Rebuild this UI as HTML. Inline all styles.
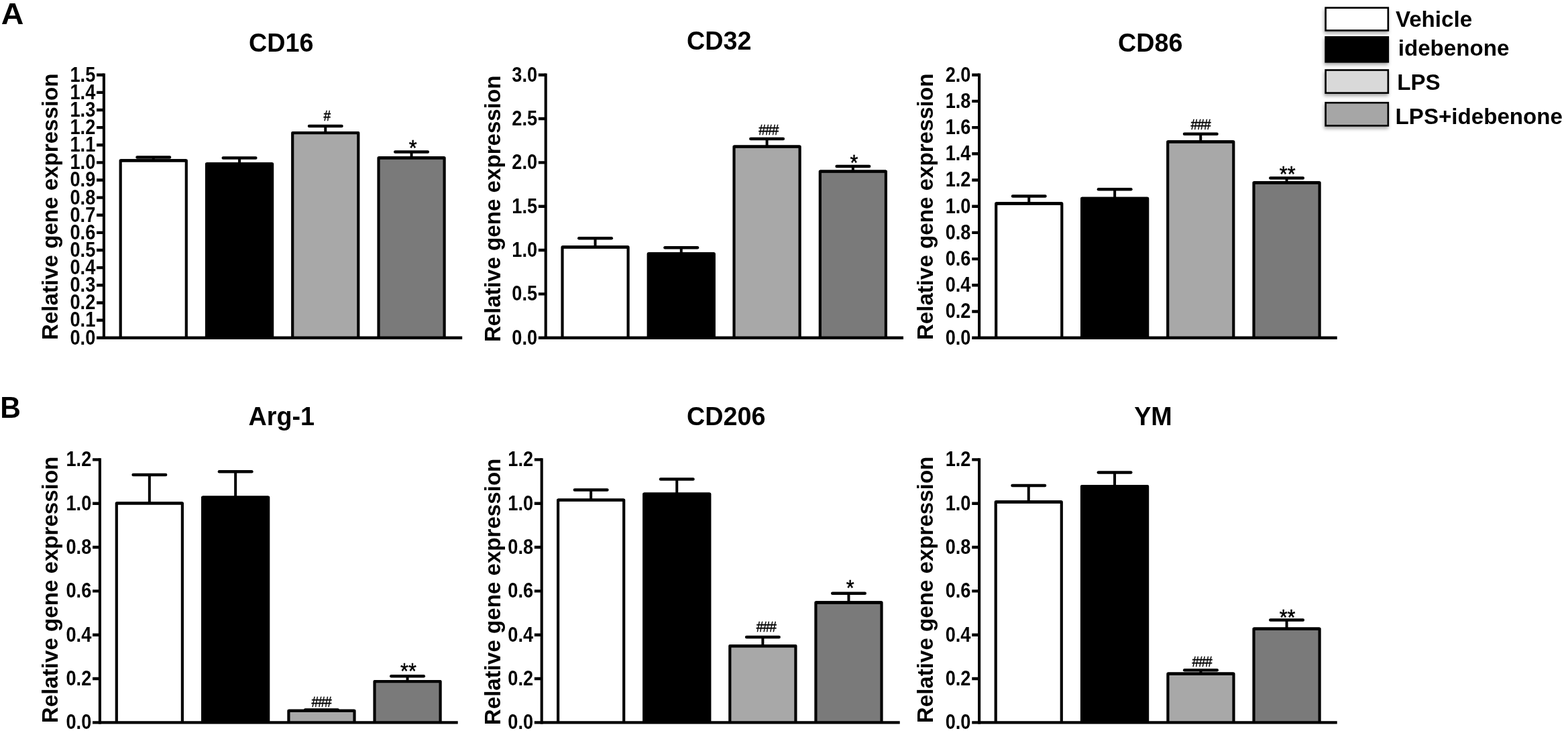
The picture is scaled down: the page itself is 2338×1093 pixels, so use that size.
<!DOCTYPE html>
<html lang="en"><head><meta charset="utf-8"><title>Relative gene expression of M1 and M2 markers</title>
<style>html,body{margin:0;padding:0;background:#fff}body{width:2338px;height:1093px;overflow:hidden}svg{display:block}text{font-family:'Liberation Sans', Arial, Helvetica, sans-serif;font-weight:bold;fill:#000;stroke:none}text.h{font-weight:normal;stroke:#000;stroke-width:.5px;letter-spacing:-1px}text.s{font-weight:normal;stroke:#000;stroke-width:.45px}</style></head><body>
<svg width="2338" height="1093" viewBox="0 0 2338 1093" fill="none" stroke="#000">
<defs><filter id="sh" x="-20%" y="-30%" width="140%" height="170%"><feDropShadow dx="-1" dy="3.3" stdDeviation="2.4" flood-color="#000" flood-opacity="0.34"/></filter></defs>
<rect width="2338" height="1093" fill="#fff" stroke="none"/>
<g>
<path d="M228.75 239.3V234.5" stroke-width="4"/>
<path d="M204.5 234.5H253" stroke-width="4.5" stroke-linecap="round"/>
<path d="M179.7 503.7V239.3H277.8V503.7" fill="#ffffff" stroke-width="4.2" stroke-linejoin="round"/>
<path d="M179.7 239.4H277.8" stroke-width="4.4"/>
<path d="M357.05 244.3V235.5" stroke-width="4"/>
<path d="M332.8 235.5H381.3" stroke-width="4.5" stroke-linecap="round"/>
<path d="M308 503.7V244.3H406.1V503.7" fill="#000000" stroke-width="4.2" stroke-linejoin="round"/>
<path d="M308 244.4H406.1" stroke-width="4.4"/>
<path d="M485.25 198V188.1" stroke-width="4"/>
<path d="M461 188.1H509.5" stroke-width="4.5" stroke-linecap="round"/>
<path d="M436.2 503.7V198H534.3V503.7" fill="#a8a8a8" stroke-width="4.2" stroke-linejoin="round"/>
<path d="M436.2 198.1H534.3" stroke-width="4.4"/>
<path d="M613.55 235.3V226.6" stroke-width="4"/>
<path d="M589.3 226.6H637.8" stroke-width="4.5" stroke-linecap="round"/>
<path d="M564.5 503.7V235.3H662.6V503.7" fill="#7a7a7a" stroke-width="4.2" stroke-linejoin="round"/>
<path d="M564.5 235.4H662.6" stroke-width="4.4"/>
<path d="M154.9 109.5V505.9" stroke-width="4.1"/>
<path d="M152.85 503.7H689.2M154.9 503.7H144.05M154.9 477.57H144.05M154.9 451.43H144.05M154.9 425.3H144.05M154.9 399.17H144.05M154.9 373.03H144.05M154.9 346.9H144.05M154.9 320.77H144.05M154.9 294.63H144.05M154.9 268.5H144.05M154.9 242.37H144.05M154.9 216.23H144.05M154.9 190.1H144.05M154.9 163.97H144.05M154.9 137.83H144.05M154.9 111.7H144.05" stroke-width="4.4"/>
<text transform="translate(142.3 513.6) scale(0.85 1)" font-size="32" text-anchor="end">0.0</text>
<text transform="translate(142.3 487.47) scale(0.85 1)" font-size="32" text-anchor="end">0.1</text>
<text transform="translate(142.3 461.33) scale(0.85 1)" font-size="32" text-anchor="end">0.2</text>
<text transform="translate(142.3 435.2) scale(0.85 1)" font-size="32" text-anchor="end">0.3</text>
<text transform="translate(142.3 409.07) scale(0.85 1)" font-size="32" text-anchor="end">0.4</text>
<text transform="translate(142.3 382.93) scale(0.85 1)" font-size="32" text-anchor="end">0.5</text>
<text transform="translate(142.3 356.8) scale(0.85 1)" font-size="32" text-anchor="end">0.6</text>
<text transform="translate(142.3 330.67) scale(0.85 1)" font-size="32" text-anchor="end">0.7</text>
<text transform="translate(142.3 304.53) scale(0.85 1)" font-size="32" text-anchor="end">0.8</text>
<text transform="translate(142.3 278.4) scale(0.85 1)" font-size="32" text-anchor="end">0.9</text>
<text transform="translate(142.3 252.27) scale(0.85 1)" font-size="32" text-anchor="end">1.0</text>
<text transform="translate(142.3 226.13) scale(0.85 1)" font-size="32" text-anchor="end">1.1</text>
<text transform="translate(142.3 200) scale(0.85 1)" font-size="32" text-anchor="end">1.2</text>
<text transform="translate(142.3 173.87) scale(0.85 1)" font-size="32" text-anchor="end">1.3</text>
<text transform="translate(142.3 147.73) scale(0.85 1)" font-size="32" text-anchor="end">1.4</text>
<text transform="translate(142.3 121.6) scale(0.85 1)" font-size="32" text-anchor="end">1.5</text>
<text transform="translate(85.6 507) rotate(-90) scale(0.98 1)" font-size="33.8">Relative gene expression</text>
<text transform="translate(419.3 77) scale(0.96 1)" font-size="39.3" text-anchor="middle">CD16</text>
<text class="h" transform="translate(487.4 180.1) scale(0.83 1)" font-size="22.99" text-anchor="middle">#</text>
<text class="s" transform="translate(615.6 232.4) scale(0.93 1)" font-size="33" text-anchor="middle">*</text>
</g>
<g>
<path d="M887.55 368.4V355.2" stroke-width="4"/>
<path d="M863.3 355.2H911.8" stroke-width="4.5" stroke-linecap="round"/>
<path d="M838.5 503.7V368.4H936.6V503.7" fill="#ffffff" stroke-width="4.2" stroke-linejoin="round"/>
<path d="M838.5 368.5H936.6" stroke-width="4.4"/>
<path d="M1015.75 378.4V369.3" stroke-width="4"/>
<path d="M991.5 369.3H1040" stroke-width="4.5" stroke-linecap="round"/>
<path d="M966.7 503.7V378.4H1064.8V503.7" fill="#000000" stroke-width="4.2" stroke-linejoin="round"/>
<path d="M966.7 378.5H1064.8" stroke-width="4.4"/>
<path d="M1143.55 218.5V207" stroke-width="4"/>
<path d="M1119.3 207H1167.8" stroke-width="4.5" stroke-linecap="round"/>
<path d="M1094.5 503.7V218.5H1192.6V503.7" fill="#a8a8a8" stroke-width="4.2" stroke-linejoin="round"/>
<path d="M1094.5 218.6H1192.6" stroke-width="4.4"/>
<path d="M1271.85 255.5V248.1" stroke-width="4"/>
<path d="M1247.6 248.1H1296.1" stroke-width="4.5" stroke-linecap="round"/>
<path d="M1222.8 503.7V255.5H1320.9V503.7" fill="#7a7a7a" stroke-width="4.2" stroke-linejoin="round"/>
<path d="M1222.8 255.6H1320.9" stroke-width="4.4"/>
<path d="M813.7 109.5V505.9" stroke-width="4.1"/>
<path d="M811.65 503.7H1347M813.7 503.7H802.85M813.7 438.37H802.85M813.7 373.03H802.85M813.7 307.7H802.85M813.7 242.37H802.85M813.7 177.03H802.85M813.7 111.7H802.85" stroke-width="4.4"/>
<text transform="translate(801.1 513.6) scale(0.85 1)" font-size="32" text-anchor="end">0.0</text>
<text transform="translate(801.1 448.27) scale(0.85 1)" font-size="32" text-anchor="end">0.5</text>
<text transform="translate(801.1 382.93) scale(0.85 1)" font-size="32" text-anchor="end">1.0</text>
<text transform="translate(801.1 317.6) scale(0.85 1)" font-size="32" text-anchor="end">1.5</text>
<text transform="translate(801.1 252.27) scale(0.85 1)" font-size="32" text-anchor="end">2.0</text>
<text transform="translate(801.1 186.93) scale(0.85 1)" font-size="32" text-anchor="end">2.5</text>
<text transform="translate(801.1 121.6) scale(0.85 1)" font-size="32" text-anchor="end">3.0</text>
<text transform="translate(745.8 510.1) rotate(-90) scale(0.98 1)" font-size="33.8">Relative gene expression</text>
<text transform="translate(1072.2 73.8) scale(0.96 1)" font-size="39.3" text-anchor="middle">CD32</text>
<text class="h" transform="translate(1145.9 200.7) scale(0.87 1)" font-size="22" text-anchor="middle">###</text>
<text class="s" transform="translate(1273.5 253.7) scale(0.93 1)" font-size="33" text-anchor="middle">*</text>
</g>
<g>
<path d="M1534.25 303.4V292.6" stroke-width="4"/>
<path d="M1510 292.6H1558.5" stroke-width="4.5" stroke-linecap="round"/>
<path d="M1485.2 503.7V303.4H1583.3V503.7" fill="#ffffff" stroke-width="4.2" stroke-linejoin="round"/>
<path d="M1485.2 303.5H1583.3" stroke-width="4.4"/>
<path d="M1662.15 295.9V282.2" stroke-width="4"/>
<path d="M1637.9 282.2H1686.4" stroke-width="4.5" stroke-linecap="round"/>
<path d="M1613.1 503.7V295.9H1711.2V503.7" fill="#000000" stroke-width="4.2" stroke-linejoin="round"/>
<path d="M1613.1 296H1711.2" stroke-width="4.4"/>
<path d="M1790.25 211.3V199.8" stroke-width="4"/>
<path d="M1766 199.8H1814.5" stroke-width="4.5" stroke-linecap="round"/>
<path d="M1741.2 503.7V211.3H1839.3V503.7" fill="#a8a8a8" stroke-width="4.2" stroke-linejoin="round"/>
<path d="M1741.2 211.4H1839.3" stroke-width="4.4"/>
<path d="M1918.55 272.3V265.6" stroke-width="4"/>
<path d="M1894.3 265.6H1942.8" stroke-width="4.5" stroke-linecap="round"/>
<path d="M1869.5 503.7V272.3H1967.6V503.7" fill="#7a7a7a" stroke-width="4.2" stroke-linejoin="round"/>
<path d="M1869.5 272.4H1967.6" stroke-width="4.4"/>
<path d="M1460.1 109.5V505.9" stroke-width="4.1"/>
<path d="M1458.05 503.7H1993.7M1460.1 503.7H1449.25M1460.1 464.5H1449.25M1460.1 425.3H1449.25M1460.1 386.1H1449.25M1460.1 346.9H1449.25M1460.1 307.7H1449.25M1460.1 268.5H1449.25M1460.1 229.3H1449.25M1460.1 190.1H1449.25M1460.1 150.9H1449.25M1460.1 111.7H1449.25" stroke-width="4.4"/>
<text transform="translate(1447.5 513.6) scale(0.85 1)" font-size="32" text-anchor="end">0.0</text>
<text transform="translate(1447.5 474.4) scale(0.85 1)" font-size="32" text-anchor="end">0.2</text>
<text transform="translate(1447.5 435.2) scale(0.85 1)" font-size="32" text-anchor="end">0.4</text>
<text transform="translate(1447.5 396) scale(0.85 1)" font-size="32" text-anchor="end">0.6</text>
<text transform="translate(1447.5 356.8) scale(0.85 1)" font-size="32" text-anchor="end">0.8</text>
<text transform="translate(1447.5 317.6) scale(0.85 1)" font-size="32" text-anchor="end">1.0</text>
<text transform="translate(1447.5 278.4) scale(0.85 1)" font-size="32" text-anchor="end">1.2</text>
<text transform="translate(1447.5 239.2) scale(0.85 1)" font-size="32" text-anchor="end">1.4</text>
<text transform="translate(1447.5 200) scale(0.85 1)" font-size="32" text-anchor="end">1.6</text>
<text transform="translate(1447.5 160.8) scale(0.85 1)" font-size="32" text-anchor="end">1.8</text>
<text transform="translate(1447.5 121.6) scale(0.85 1)" font-size="32" text-anchor="end">2.0</text>
<text transform="translate(1390.8 507.1) rotate(-90) scale(0.98 1)" font-size="33.8">Relative gene expression</text>
<text transform="translate(1715.3 76.8) scale(0.96 1)" font-size="39.3" text-anchor="middle">CD86</text>
<text class="h" transform="translate(1790.2 193) scale(0.87 1)" font-size="22" text-anchor="middle">###</text>
<text class="s" transform="translate(1919.7 270.9) scale(0.93 1)" font-size="33" text-anchor="middle">**</text>
</g>
<g>
<path d="M222.85 750.3V707.9" stroke-width="4"/>
<path d="M198.6 707.9H247.1" stroke-width="4.5" stroke-linecap="round"/>
<path d="M173.8 1077.4V750.3H271.9V1077.4" fill="#ffffff" stroke-width="4.2" stroke-linejoin="round"/>
<path d="M173.8 750.4H271.9" stroke-width="4.4"/>
<path d="M351.15 741.5V703.2" stroke-width="4"/>
<path d="M326.9 703.2H375.4" stroke-width="4.5" stroke-linecap="round"/>
<path d="M302.1 1077.4V741.5H400.2V1077.4" fill="#000000" stroke-width="4.2" stroke-linejoin="round"/>
<path d="M302.1 741.6H400.2" stroke-width="4.4"/>
<path d="M479.45 1059.8V1058.5" stroke-width="4"/>
<path d="M455.2 1058.5H503.7" stroke-width="4.5" stroke-linecap="round"/>
<path d="M430.4 1077.4V1059.8H528.5V1077.4" fill="#a8a8a8" stroke-width="4.2" stroke-linejoin="round"/>
<path d="M430.4 1059.9H528.5" stroke-width="4.4"/>
<path d="M607.55 1016V1008.2" stroke-width="4"/>
<path d="M583.3 1008.2H631.8" stroke-width="4.5" stroke-linecap="round"/>
<path d="M558.5 1077.4V1016H656.6V1077.4" fill="#7a7a7a" stroke-width="4.2" stroke-linejoin="round"/>
<path d="M558.5 1016.1H656.6" stroke-width="4.4"/>
<path d="M148.9 683.2V1079.6" stroke-width="4.1"/>
<path d="M146.85 1077.4H682.7M148.9 1077.4H138.05M148.9 1012.07H138.05M148.9 946.73H138.05M148.9 881.4H138.05M148.9 816.07H138.05M148.9 750.73H138.05M148.9 685.4H138.05" stroke-width="4.4"/>
<text transform="translate(136.3 1087.3) scale(0.85 1)" font-size="32" text-anchor="end">0.0</text>
<text transform="translate(136.3 1021.97) scale(0.85 1)" font-size="32" text-anchor="end">0.2</text>
<text transform="translate(136.3 956.63) scale(0.85 1)" font-size="32" text-anchor="end">0.4</text>
<text transform="translate(136.3 891.3) scale(0.85 1)" font-size="32" text-anchor="end">0.6</text>
<text transform="translate(136.3 825.97) scale(0.85 1)" font-size="32" text-anchor="end">0.8</text>
<text transform="translate(136.3 760.63) scale(0.85 1)" font-size="32" text-anchor="end">1.0</text>
<text transform="translate(136.3 695.3) scale(0.85 1)" font-size="32" text-anchor="end">1.2</text>
<text transform="translate(85.6 1078.2) rotate(-90) scale(0.98 1)" font-size="33.8">Relative gene expression</text>
<text transform="translate(419.8 634.3) scale(0.96 1)" font-size="39.3" text-anchor="middle">Arg-1</text>
<text class="h" transform="translate(479.2 1054) scale(0.87 1)" font-size="22" text-anchor="middle">###</text>
<text class="s" transform="translate(609 1011.9) scale(0.93 1)" font-size="33" text-anchor="middle">**</text>
</g>
<g>
<path d="M881.15 745.5V730.6" stroke-width="4"/>
<path d="M856.9 730.6H905.4" stroke-width="4.5" stroke-linecap="round"/>
<path d="M832.1 1077.4V745.5H930.2V1077.4" fill="#ffffff" stroke-width="4.2" stroke-linejoin="round"/>
<path d="M832.1 745.6H930.2" stroke-width="4.4"/>
<path d="M1009.25 736.5V714.6" stroke-width="4"/>
<path d="M985 714.6H1033.5" stroke-width="4.5" stroke-linecap="round"/>
<path d="M960.2 1077.4V736.5H1058.3V1077.4" fill="#000000" stroke-width="4.2" stroke-linejoin="round"/>
<path d="M960.2 736.6H1058.3" stroke-width="4.4"/>
<path d="M1137.35 963.1V950.1" stroke-width="4"/>
<path d="M1113.1 950.1H1161.6" stroke-width="4.5" stroke-linecap="round"/>
<path d="M1088.3 1077.4V963.1H1186.4V1077.4" fill="#a8a8a8" stroke-width="4.2" stroke-linejoin="round"/>
<path d="M1088.3 963.2H1186.4" stroke-width="4.4"/>
<path d="M1265.45 898.4V884.7" stroke-width="4"/>
<path d="M1241.2 884.7H1289.7" stroke-width="4.5" stroke-linecap="round"/>
<path d="M1216.4 1077.4V898.4H1314.5V1077.4" fill="#7a7a7a" stroke-width="4.2" stroke-linejoin="round"/>
<path d="M1216.4 898.5H1314.5" stroke-width="4.4"/>
<path d="M807.7 683.2V1079.6" stroke-width="4.1"/>
<path d="M805.65 1077.4H1341.7M807.7 1077.4H796.85M807.7 1012.07H796.85M807.7 946.73H796.85M807.7 881.4H796.85M807.7 816.07H796.85M807.7 750.73H796.85M807.7 685.4H796.85" stroke-width="4.4"/>
<text transform="translate(795.1 1087.3) scale(0.85 1)" font-size="32" text-anchor="end">0.0</text>
<text transform="translate(795.1 1021.97) scale(0.85 1)" font-size="32" text-anchor="end">0.2</text>
<text transform="translate(795.1 956.63) scale(0.85 1)" font-size="32" text-anchor="end">0.4</text>
<text transform="translate(795.1 891.3) scale(0.85 1)" font-size="32" text-anchor="end">0.6</text>
<text transform="translate(795.1 825.97) scale(0.85 1)" font-size="32" text-anchor="end">0.8</text>
<text transform="translate(795.1 760.63) scale(0.85 1)" font-size="32" text-anchor="end">1.0</text>
<text transform="translate(795.1 695.3) scale(0.85 1)" font-size="32" text-anchor="end">1.2</text>
<text transform="translate(745.8 1081.2) rotate(-90) scale(0.98 1)" font-size="33.8">Relative gene expression</text>
<text transform="translate(1082.8 634.3) scale(0.96 1)" font-size="39.3" text-anchor="middle">CD206</text>
<text class="h" transform="translate(1142.3 941.9) scale(0.87 1)" font-size="22" text-anchor="middle">###</text>
<text class="s" transform="translate(1267.6 888) scale(0.93 1)" font-size="33" text-anchor="middle">*</text>
</g>
<g>
<path d="M1533.75 748.4V723.9" stroke-width="4"/>
<path d="M1509.5 723.9H1558" stroke-width="4.5" stroke-linecap="round"/>
<path d="M1484.7 1077.4V748.4H1582.8V1077.4" fill="#ffffff" stroke-width="4.2" stroke-linejoin="round"/>
<path d="M1484.7 748.5H1582.8" stroke-width="4.4"/>
<path d="M1662.05 725.2V704.5" stroke-width="4"/>
<path d="M1637.8 704.5H1686.3" stroke-width="4.5" stroke-linecap="round"/>
<path d="M1613 1077.4V725.2H1711.1V1077.4" fill="#000000" stroke-width="4.2" stroke-linejoin="round"/>
<path d="M1613 725.3H1711.1" stroke-width="4.4"/>
<path d="M1790.45 1004.7V999.3" stroke-width="4"/>
<path d="M1766.2 999.3H1814.7" stroke-width="4.5" stroke-linecap="round"/>
<path d="M1741.4 1077.4V1004.7H1839.5V1077.4" fill="#a8a8a8" stroke-width="4.2" stroke-linejoin="round"/>
<path d="M1741.4 1004.8H1839.5" stroke-width="4.4"/>
<path d="M1918.55 937.5V924.5" stroke-width="4"/>
<path d="M1894.3 924.5H1942.8" stroke-width="4.5" stroke-linecap="round"/>
<path d="M1869.5 1077.4V937.5H1967.6V1077.4" fill="#7a7a7a" stroke-width="4.2" stroke-linejoin="round"/>
<path d="M1869.5 937.6H1967.6" stroke-width="4.4"/>
<path d="M1460.1 683.2V1079.6" stroke-width="4.1"/>
<path d="M1458.05 1077.4H1993.7M1460.1 1077.4H1449.25M1460.1 1012.07H1449.25M1460.1 946.73H1449.25M1460.1 881.4H1449.25M1460.1 816.07H1449.25M1460.1 750.73H1449.25M1460.1 685.4H1449.25" stroke-width="4.4"/>
<text transform="translate(1447.5 1087.3) scale(0.85 1)" font-size="32" text-anchor="end">0.0</text>
<text transform="translate(1447.5 1021.97) scale(0.85 1)" font-size="32" text-anchor="end">0.2</text>
<text transform="translate(1447.5 956.63) scale(0.85 1)" font-size="32" text-anchor="end">0.4</text>
<text transform="translate(1447.5 891.3) scale(0.85 1)" font-size="32" text-anchor="end">0.6</text>
<text transform="translate(1447.5 825.97) scale(0.85 1)" font-size="32" text-anchor="end">0.8</text>
<text transform="translate(1447.5 760.63) scale(0.85 1)" font-size="32" text-anchor="end">1.0</text>
<text transform="translate(1447.5 695.3) scale(0.85 1)" font-size="32" text-anchor="end">1.2</text>
<text transform="translate(1390.8 1078.2) rotate(-90) scale(0.98 1)" font-size="33.8">Relative gene expression</text>
<text transform="translate(1719.5 634.3) scale(0.96 1)" font-size="39.3" text-anchor="middle">YM</text>
<text class="h" transform="translate(1792.2 993.6) scale(0.87 1)" font-size="22" text-anchor="middle">###</text>
<text class="s" transform="translate(1919.6 931.6) scale(0.93 1)" font-size="33" text-anchor="middle">**</text>
</g>
<text transform="translate(1.7 35.9) scale(1.04 1)" font-size="44.8">A</text>
<text transform="translate(0.2 623) scale(0.95 1)" font-size="44.6">B</text>
<g>
<rect x="1976.6" y="11.6" width="93.2" height="33.8" fill="#ffffff" stroke-width="2.6" filter="url(#sh)"/>
<text transform="translate(2080.9 40) scale(1.01 1)" font-size="32.8">Vehicle</text>
<rect x="1976.6" y="55.3" width="93.2" height="37" fill="#000000" stroke-width="2.6" filter="url(#sh)"/>
<text transform="translate(2084.7 82.9) scale(1.01 1)" font-size="32.8">idebenone</text>
<rect x="1976.6" y="104.5" width="93.2" height="34.1" fill="#d9d9d9" stroke-width="2.6" filter="url(#sh)"/>
<text transform="translate(2083.3 134.1) scale(1.01 1)" font-size="32.8">LPS</text>
<rect x="1976.6" y="153.2" width="93.2" height="34.2" fill="#a6a6a6" stroke-width="2.6" filter="url(#sh)"/>
<text transform="translate(2080.6 185.3) scale(1.01 1)" font-size="32.8">LPS+idebenone</text>
</g>
</svg></body></html>
